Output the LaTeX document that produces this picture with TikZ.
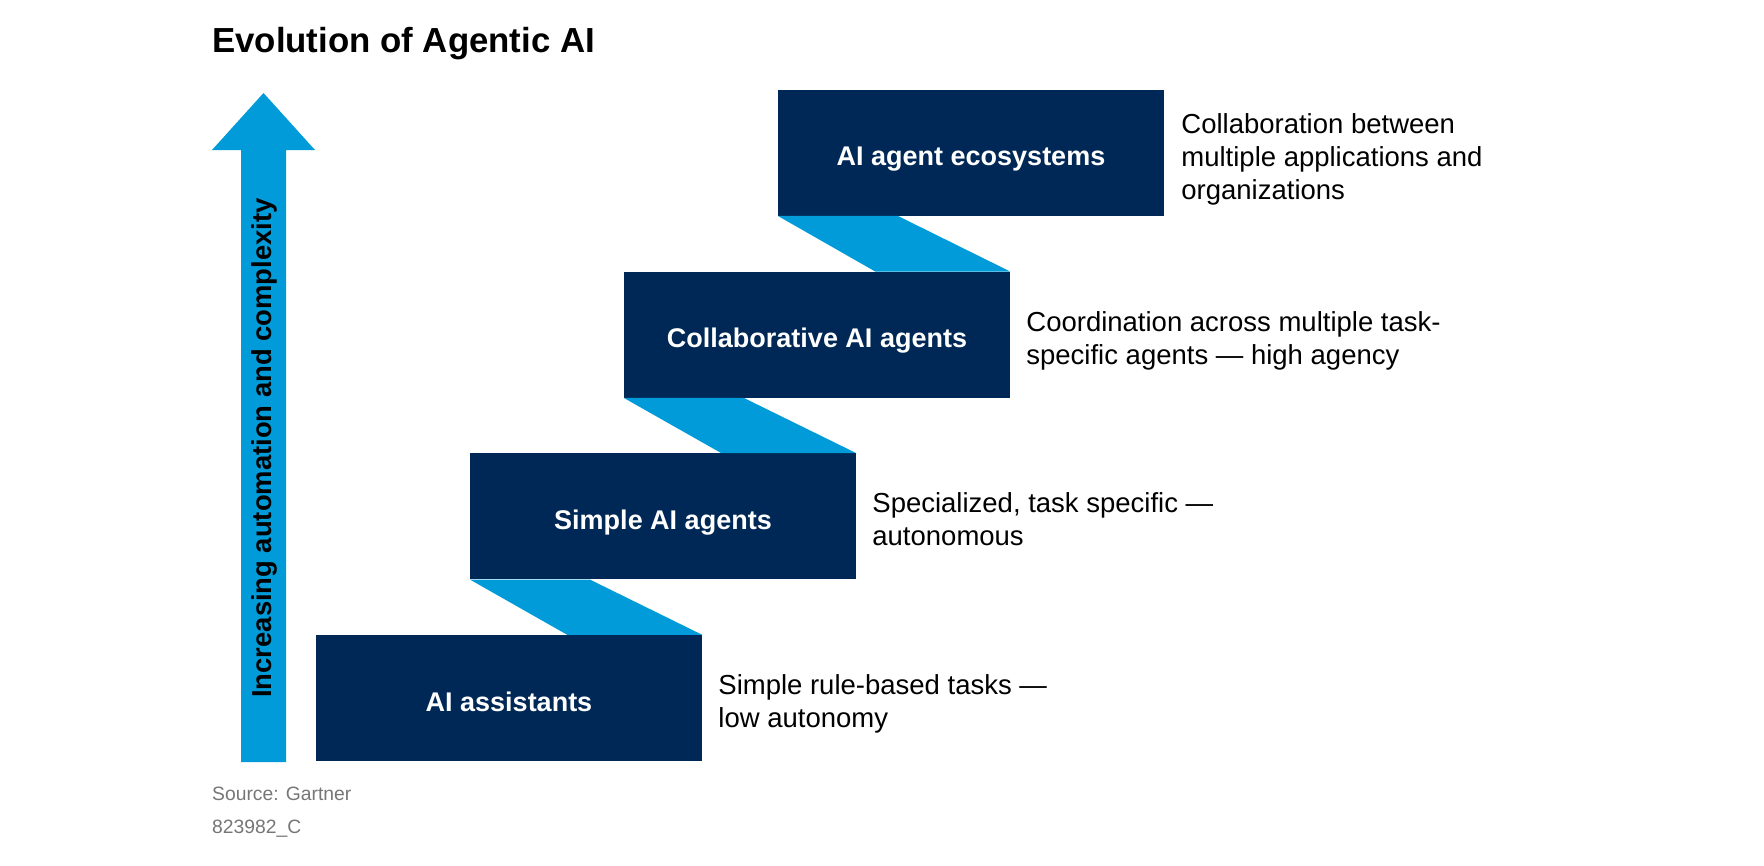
\documentclass[tikz,border=0pt]{standalone}
\usepackage{fontspec}
\setmainfont{Liberation Sans}
\usetikzlibrary{calc}
\definecolor{navy}{RGB}{0,40,86}
\definecolor{skyblue}{RGB}{0,155,216}
\definecolor{srcgray}{RGB}{118,118,118}

\begin{document}
\begin{tikzpicture}[x=1pt,y=1pt,yscale=-1,
  stage/.style={fill=navy,text=white,minimum width=386pt,minimum height=126pt,inner sep=0pt,text height=26pt,text depth=0pt,font=\fontsize{27}{32}\selectfont\bfseries},
  note/.style={anchor=west,align=left,inner sep=0pt,font=\fontsize{27.5}{33}\selectfont},
  ribbon/.style={fill=skyblue}]
\useasboundingbox (0,0) rectangle (1764,865);

% Title
\node [anchor=base west,inner sep=0pt,font=\fontsize{34.8}{40}\selectfont\bfseries] (title) at (212,52) {Evolution of Agentic AI};

% Arrow (shaft and head)
\fill [skyblue] (241,762) -- (241,150) -- (212,150) -- (263.5,93) -- (315,150) -- (286,150) -- (286,762) -- cycle;
\node [rotate=90,inner sep=0pt,font=\fontsize{27.4}{30}\selectfont\bfseries] (axis) at (264,448) {Increasing automation and complexity};

% Stages
\node [stage] (assist) at (509,698) {AI assistants};
\node [stage] (simple) at (663,516.3) {Simple AI agents};
\node [stage] (collab) at (817,334.7) {Collaborative AI agents};
\node [stage] (ecosys) at (971,152.7) {AI agent ecosystems};

% Ribbons between stages
\fill [ribbon] (simple.south west) -- ($(simple.south west)+(120,0)$) -- (assist.north east) -- ($(assist.north east)+(-135,0)$) -- cycle;
\fill [ribbon] (collab.south west) -- ($(collab.south west)+(120,0)$) -- (simple.north east) -- ($(simple.north east)+(-135,0)$) -- cycle;
\fill [ribbon] (ecosys.south west) -- ($(ecosys.south west)+(120,0)$) -- (collab.north east) -- ($(collab.north east)+(-135,0)$) -- cycle;

% Notes
\node [note] (assistnote) at ($(assist.east)+(16,6)$) {Simple rule-based tasks —\\low autonomy};
\node [note] (simplenote) at ($(simple.east)+(16,3)$) {Specialized, task specific —\\autonomous};
\node [note] (collabnote) at ($(collab.east)+(16,6)$) {Coordination across multiple task-\\specific agents — high agency};
\node [note] (ecosysnote) at ($(ecosys.east)+(17,7)$) {Collaboration between\\multiple applications and\\organizations};

% Source
\node [anchor=base west,inner sep=0pt,text=srcgray,font=\fontsize{19.3}{22}\selectfont] (source) at (212,800) {Source: Gartner};
\node [anchor=base west,inner sep=0pt,text=srcgray,font=\fontsize{19.3}{22}\selectfont] (figid) at (212,833) {823982\_C};

\end{tikzpicture}
\end{document}
